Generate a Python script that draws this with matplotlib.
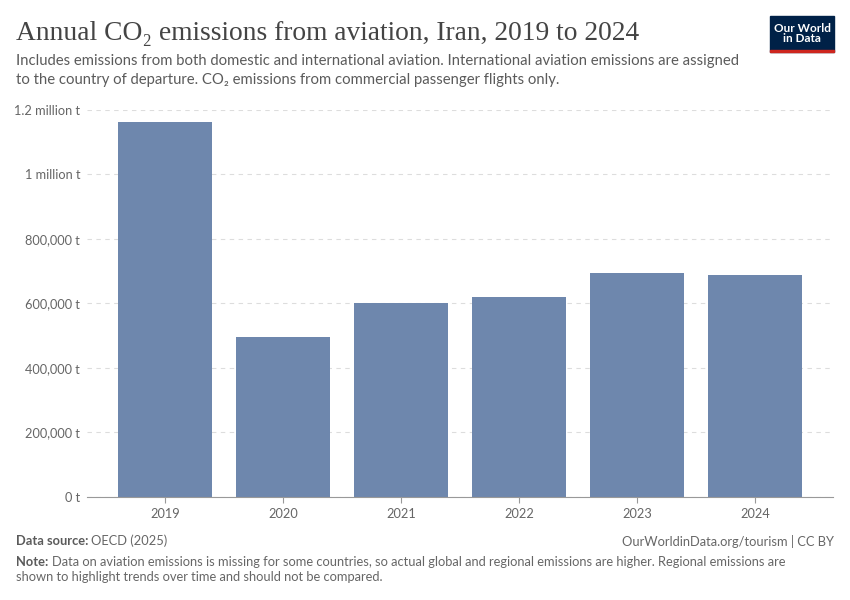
import matplotlib
matplotlib.use("Agg")
import matplotlib.pyplot as plt
from matplotlib.patches import Rectangle
from matplotlib.ticker import FuncFormatter

# data
years = ["2019", "2020", "2021", "2022", "2023", "2024"]
emissions = [1163000, 494000, 601000, 620000, 694000, 687000]
y_ticks = [0, 200000, 400000, 600000, 800000, 1000000, 1200000]

bar_color = "#6e87ad"
grey_text = "#666666"
sans = ["Lato", "DejaVu Sans"]
serif = ["Liberation Serif", "DejaVu Serif"]


def fmt(v, pos):
    if v >= 1000000:
        m = v / 1000000
        return f"{m:g} million t"
    return f"{int(v):,} t"


fig = plt.figure(figsize=(8.5, 6), dpi=100)
ax = fig.add_axes([87 / 850, 1 - 496.7 / 600, (833 - 87) / 850, (496.7 - 109.7) / 600])

x = list(range(len(years)))
ax.bar(x, emissions, width=0.8, color=bar_color, zorder=2)

ax.set_xlim(-0.66, 5.66)
ax.set_ylim(0, 1200000)
ax.set_yticks(y_ticks)
ax.yaxis.set_major_formatter(FuncFormatter(fmt))
ax.set_xticks(x)
ax.set_xticklabels(years)

ax.grid(axis="y", color="#dddddd", linestyle=(0, (4, 4)), linewidth=0.8, zorder=0)
for s in ["top", "right", "left"]:
    ax.spines[s].set_visible(False)
ax.spines["bottom"].set_color("#999999")
ax.tick_params(axis="y", length=0, pad=5, labelsize=9.2, labelcolor=grey_text)
ax.tick_params(axis="x", length=4, color="#999999", pad=4, labelsize=9.2, labelcolor=grey_text)
for lab in ax.get_xticklabels() + ax.get_yticklabels():
    lab.set_family(sans)

# title and subtitle
fig.text(16 / 850, 1 - 33 / 600, "Annual CO₂ emissions from aviation, Iran, 2019 to 2024",
         family=serif, fontsize=19.8, color="#444444", va="center", ha="left")
fig.text(16 / 850, 1 - 61 / 600,
         "Includes emissions from both domestic and international aviation. International aviation emissions are assigned",
         family=sans, fontsize=10.7, color="#5b5b5b", va="center", ha="left")
fig.text(16 / 850, 1 - 80 / 600,
         "to the country of departure. CO₂ emissions from commercial passenger flights only.",
         family=sans, fontsize=10.7, color="#5b5b5b", va="center", ha="left")

# logo
fig.patches.append(Rectangle((770 / 850, 1 - 52 / 600), 64 / 850, 36 / 600,
                             transform=fig.transFigure, color="#002147", zorder=5))
fig.patches.append(Rectangle((770 / 850, 1 - 52 / 600), 64 / 850, 2.5 / 600,
                             transform=fig.transFigure, color="#ce261e", zorder=6))
fig.text(802 / 850, 1 - 33.5 / 600, "Our World\nin Data", family=sans, fontsize=8.5,
         color="white", ha="center", va="center", linespacing=1.0, zorder=7, weight="bold")

# footer
fig.text(16 / 850, 1 - 541 / 600, "Data source: ", family=sans, fontsize=9.3, color="#5b5b5b",
         weight="bold", va="center", ha="left")
fig.text(91 / 850, 1 - 541 / 600, "OECD (2025)", family=sans, fontsize=9.3, color=grey_text,
         va="center", ha="left")
fig.text(834 / 850, 1 - 541 / 600, "OurWorldinData.org/tourism | CC BY", family=sans, fontsize=9.3,
         color=grey_text, va="center", ha="right")
fig.text(16 / 850, 1 - 562 / 600, "Note:", family=sans, fontsize=9.3, color="#5b5b5b",
         weight="bold", va="center", ha="left")
fig.text(52 / 850, 1 - 562 / 600,
         "Data on aviation emissions is missing for some countries, so actual global and regional emissions are higher. Regional emissions are",
         family=sans, fontsize=9.3, color=grey_text, va="center", ha="left")
fig.text(16 / 850, 1 - 577 / 600,
         "shown to highlight trends over time and should not be compared.",
         family=sans, fontsize=9.3, color=grey_text, va="center", ha="left")

fig.savefig("out.png", dpi=100)
